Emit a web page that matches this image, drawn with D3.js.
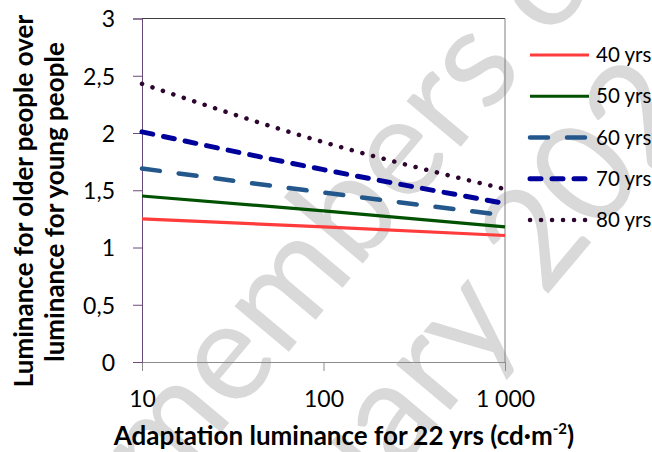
<!DOCTYPE html>
<html><head><meta charset="utf-8">
<script src="https://cdn.jsdelivr.net/npm/d3@7"></script>
<style>
html,body{margin:0;padding:0;background:#fff;}
svg{display:block;}
text{font-family:Lato,"Open Sans",sans-serif;}
</style></head>
<body>
<svg id="chart" width="652" height="452"></svg>
<script>
// ---- data ----
const xValues = [10, 100, 1000];
const seriesNames = ["40 yrs", "50 yrs", "60 yrs", "70 yrs", "80 yrs"];
const s40 = [1.25, 1.18, 1.105];
const s50 = [1.45, 1.32, 1.18];
const s60 = [1.69, 1.48, 1.28];
const s70 = [2.01, 1.68, 1.385];
const s80 = [2.43, 1.92, 1.51];
const yTicks = [0, 0.5, 1, 1.5, 2, 2.5, 3];
const yTickLabels = ["0", "0,5", "1", "1,5", "2", "2,5", "3"];
const xTicks = [10, 100, 1000];
const xTickLabels = ["10", "100", "1 000"];
const xTitle = "Adaptation luminance  for 22 yrs (cd\u00b7m";
const yTitle1 = "Luminance for older people over";
const yTitle2 = "luminance for young people";
const watermark1 = "members only";
const watermark2 = "January 2024";

// ---- styles ----
const styles = [
  {color:"#ff3b3b", width:3.2, dash:null, cap:"butt"},
  {color:"#005200", width:3.2, dash:null, cap:"butt"},
  {color:"#24588c", width:4.5, dash:"18 19", cap:"round"},
  {color:"#00009a", width:5, dash:"11 11", cap:"round"},
  {color:"#2d0630", width:4.5, dash:"0.1 10.9", cap:"round"}
];
const allSeries = [s40, s50, s60, s70, s80];

const svg = d3.select("#chart");
const L = 142, R = 505, T = 18.5, B = 362;
const x = d3.scaleLog().domain([10, 1000]).range([L, R]);
const y = d3.scaleLinear().domain([0, 3]).range([B, T]);

// watermark
const wm = svg.append("g").attr("fill", "#d9d9d9").attr("font-size", 140);
wm.append("text").attr("transform", "translate(161,504) rotate(-50)").text(watermark1);
wm.append("text").attr("transform", "translate(218,687) rotate(-50)").text(watermark2);

// frame top / right
svg.append("line").attr("x1", L).attr("x2", R).attr("y1", T).attr("y2", T).attr("stroke", "#404040").attr("stroke-width", 1);
svg.append("line").attr("x1", R).attr("x2", R).attr("y1", T).attr("y2", B).attr("stroke", "#7f7f7f").attr("stroke-width", 1);

// x axis
const xAxis = d3.axisBottom(x).tickValues(xTicks).tickSize(9).tickFormat((d, i) => xTickLabels[i]);
const gx = svg.append("g").attr("transform", `translate(0,${B})`).call(xAxis);
gx.select(".domain").attr("stroke", "#8c8c8c");
gx.selectAll(".tick line").attr("stroke", "#8c8c8c");
gx.selectAll(".tick text").attr("font-size", 23).attr("font-family", "Lato").attr("fill", "#000").attr("dy", "0").attr("y", 45);

// y axis
const yAxis = d3.axisLeft(y).tickValues(yTicks).tickSize(9).tickFormat((d, i) => yTickLabels[i]);
const gy = svg.append("g").attr("transform", `translate(${L},0)`).call(yAxis);
gy.select(".domain").attr("stroke", "#6a4a78");
gy.selectAll(".tick line").attr("stroke", "#6a4a78");
gy.selectAll(".tick text").attr("font-size", 23).attr("font-family", "Lato").attr("fill", "#000").attr("x", -27).attr("dy", "0.36em");

// lines
const line = d3.line().x((d, i) => x(xValues[i])).y(d => y(d)).curve(d3.curveMonotoneX);
allSeries.forEach((s, k) => {
  const st = styles[k];
  svg.append("path").datum(s).attr("d", line).attr("fill", "none")
    .attr("stroke", st.color).attr("stroke-width", st.width)
    .attr("stroke-linecap", st.cap)
    .attr("stroke-dasharray", st.dash);
});

// legend
const legY = d3.scalePoint().domain(seriesNames).range([55, 220]);
seriesNames.forEach((n, k) => {
  const st = styles[k];
  const yy = legY(n);
  svg.append("line").attr("x1", 530).attr("x2", 589).attr("y1", yy).attr("y2", yy)
    .attr("stroke", st.color).attr("stroke-width", st.width)
    .attr("stroke-linecap", st.cap).attr("stroke-dasharray", st.dash);
  svg.append("text").attr("x", 596).attr("y", yy).attr("dy", "0.35em")
    .attr("font-size", 20.5).attr("fill", "#000").text(n);
});

// axis titles
const xt = svg.append("text").attr("x", 344).attr("y", 445).attr("text-anchor", "middle")
  .attr("font-size", 26).attr("font-weight", "bold").attr("fill", "#000");
xt.append("tspan").text(xTitle);
xt.append("tspan").attr("font-size", 15).attr("dy", -11).text("-2");
xt.append("tspan").attr("dy", 11).text(")");

svg.append("text").attr("transform", "translate(33,201) rotate(-90)").attr("text-anchor", "middle")
  .attr("font-size", 26).attr("font-weight", "bold").attr("fill", "#000").text(yTitle1);
svg.append("text").attr("transform", "translate(64,202) rotate(-90)").attr("text-anchor", "middle")
  .attr("font-size", 26).attr("font-weight", "bold").attr("fill", "#000").text(yTitle2);
</script>
</body></html>
